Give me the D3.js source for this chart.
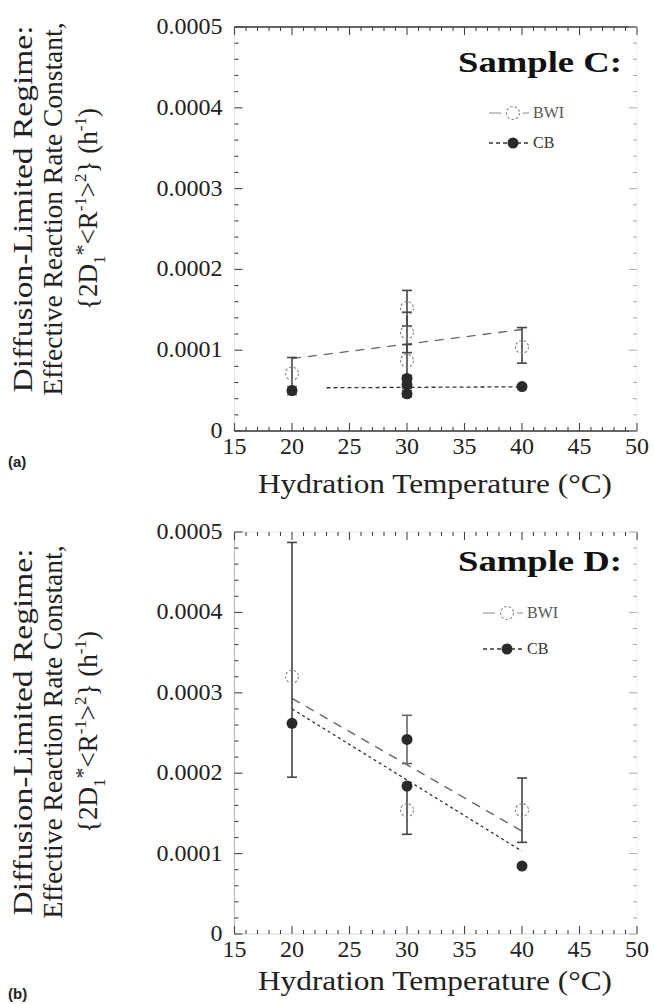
<!DOCTYPE html>
<html><head><meta charset="utf-8">
<script src="https://cdn.jsdelivr.net/npm/d3@7"></script>
<style>body{margin:0;background:#fff}svg{display:block}</style>
</head><body>
<svg id="chart" width="654" height="1004"></svg>
<script>
// ---------- data ----------
const xTicks = [15, 20, 25, 30, 35, 40, 45, 50];
const yTicks = [0, 0.0001, 0.0002, 0.0003, 0.0004, 0.0005];
const yTickLabels = ["0", "0.0001", "0.0002", "0.0003", "0.0004", "0.0005"];
const seriesNames = ["BWI", "CB"];

// Sample C
const cBWI_temp  = [20, 30, 30, 30, 40];
const cBWI_val   = [0.000071, 0.000152, 0.000122, 0.000087, 0.000104];
const cBWI_errUp = [0.00002, 0.000022, 0.000025, 0.00002, 0.000024];
const cBWI_errDn = [0.00002, 0.000022, 0.000025, 0.00002, 0.00002];
const cCB_temp   = [20, 30, 30, 30, 40];
const cCB_val    = [0.00005, 0.000065, 0.000057, 0.000046, 0.000055];
const cCB_errUp  = [0.000005, 0.000004, 0.000004, 0.000004, 0];
const cCB_errDn  = [0.000005, 0.000004, 0.000004, 0.000004, 0];
const cBWI_fit   = [[20, 0.0000896], [40, 0.0001256]];
const cCB_fit    = [[23, 0.0000535], [40, 0.0000547]];

// Sample D
const dBWI_temp  = [20, 30, 40];
const dBWI_val   = [0.00032, 0.000154, 0.000154];
const dBWI_errUp = [0.000167, 0.00003, 0.00004];
const dBWI_errDn = [0.000125, 0.00003, 0.00004];
const dCB_temp   = [20, 30, 30, 40];
const dCB_val    = [0.000262, 0.000242, 0.000184, 0.0000845];
const dCB_errUp  = [0, 0.00003, 0, 0];
const dCB_errDn  = [0, 0.00003, 0, 0];
const dBWI_fit   = [[20, 0.000293], [40, 0.000128]];
const dCB_fit    = [[20, 0.00028], [40, 0.000103]];

// ---------- drawing ----------
const svg = d3.select("#chart");
const serif = "'Liberation Serif', 'Times New Roman', serif";
const x = d3.scaleLinear().domain([15, 50]).range([234.5, 637]);

function panel(cfg) {
  const y = d3.scaleLinear().domain([0, 0.0005]).range([cfg.y0, cfg.y5]);
  const g = svg.append("g");
  const xMinor = d3.range(15, 50.01, 1);
  const yMinor = d3.range(0, 0.000501, 0.00002);

  const L = x.range()[0], R = x.range()[1], B = y(0), T = y(0.0005);
  const line = (x1, y1, x2, y2, c, w) => g.append("line").attr("x1", x1).attr("y1", y1).attr("x2", x2).attr("y2", y2)
      .attr("stroke", c).attr("stroke-width", w);
  line(L, B, R, B, cfg.bottomColor, 1.3);
  line(L, T, R, T, cfg.topColor, 1.3);
  line(L, T, L, B, cfg.leftColor, 1.2);
  line(R, T, R, B, cfg.rightColor, 1);

  xMinor.forEach(v => {
    const major = xTicks.includes(Math.round(v));
    const len = major ? 8 : 4;
    line(x(v), B, x(v), B - len, "#444", 1.1);
    line(x(v), T, x(v), T + len, "#444", 1.1);
  });
  yMinor.forEach(v => {
    const major = Math.abs(v / 0.0001 - Math.round(v / 0.0001)) < 1e-6;
    const len = major ? 8 : 4;
    line(L, y(v), L + len, y(v), "#444", 1.1);
    line(R, y(v), R - len, y(v), "#aaa", 1);
  });

  g.selectAll(".xl").data(xTicks).enter().append("text")
    .attr("x", d => x(d)).attr("y", B + 23).attr("text-anchor", "middle")
    .attr("font-family", serif).attr("font-size", 24).attr("fill", "#222").text(d => d);
  g.selectAll(".yl").data(yTicks).enter().append("text")
    .attr("x", L - 12).attr("y", (d) => y(d) + 7).attr("text-anchor", "end")
    .attr("font-family", serif).attr("font-size", 24).attr("fill", "#222")
    .text((d, i) => yTickLabels[i]);

  g.append("text").attr("x", 435).attr("y", cfg.xTitleY).attr("text-anchor", "middle")
    .attr("font-family", serif).attr("font-size", 28).attr("fill", "#222")
    .attr("textLength", 354).attr("lengthAdjust", "spacingAndGlyphs")
    .text("Hydration Temperature (°C)");

  const yt = (bx, txt, len) => g.append("text")
    .attr("transform", `translate(${bx},${cfg.yTitleC}) rotate(-90)`)
    .attr("text-anchor", "middle").attr("font-family", serif).attr("font-size", 27).attr("fill", "#222")
    .attr("textLength", len).attr("lengthAdjust", "spacingAndGlyphs").text(txt);
  yt(32, "Diffusion-Limited Regime:", 367);
  yt(62, "Effective Reaction Rate Constant,", 373);
  const t3 = g.append("text")
    .attr("transform", `translate(97,${cfg.yTitleC}) rotate(-90)`)
    .attr("text-anchor", "middle").attr("font-family", serif).attr("font-size", 27).attr("fill", "#222");
  const parts = [["{2D", 0, 27], ["1", 8, 17], ["*", -15, 22], ["<R", 7, 27], ["-1", -11, 17], [">", 11, 27],
                 ["2", -11, 17], ["}", 11, 27], [" (h", 0, 27], ["-1", -11, 17], [")", 11, 27]];
  parts.forEach(p => t3.append("tspan").attr("dy", p[1]).attr("font-size", p[2]).text(p[0]));

  g.append("text").attr("x", 622).attr("y", cfg.sampleY).attr("text-anchor", "end")
    .attr("font-family", serif).attr("font-weight", "bold").attr("font-size", 29).attr("fill", "#111")
    .attr("textLength", 164).attr("lengthAdjust", "spacingAndGlyphs").text(cfg.sample);

  g.append("text").attr("x", 8).attr("y", cfg.panelY).attr("font-family", "'Liberation Sans', Arial, sans-serif")
    .attr("font-weight", "bold").attr("font-size", 15).attr("fill", "#222").text(cfg.panel);

  const ln = d3.line().x(d => x(d[0])).y(d => y(d[1]));
  g.append("path").attr("d", ln(cfg.bwiFit)).attr("fill", "none").attr("stroke", "#666")
    .attr("stroke-width", 1.3).attr("stroke-dasharray", "9,7");
  g.append("path").attr("d", ln(cfg.cbFit)).attr("fill", "none").attr("stroke", "#333")
    .attr("stroke-width", 1.3).attr("stroke-dasharray", cfg.cbDash);

  const eb = (temps, vals, up, dn, color) => temps.forEach((t, i) => {
    if (!up[i] && !dn[i]) return;
    const cx = x(t), y1 = y(vals[i] + up[i]), y2 = y(vals[i] - dn[i]);
    line(cx, y1, cx, y2, color, 1.6);
    line(cx - 5, y1, cx + 5, y1, color, 1.6);
    line(cx - 5, y2, cx + 5, y2, color, 1.6);
  });
  eb(cfg.bwiT, cfg.bwiV, cfg.bwiU, cfg.bwiD, "#444");
  eb(cfg.cbT, cfg.cbV, cfg.cbU, cfg.cbD, "#666");

  cfg.bwiT.forEach((t, i) => g.append("circle").attr("cx", x(t)).attr("cy", y(cfg.bwiV[i])).attr("r", 6.5)
    .attr("fill", "none").attr("stroke", "#888").attr("stroke-width", 1.1).attr("stroke-dasharray", "2.5,2"));
  cfg.cbT.forEach((t, i) => g.append("circle").attr("cx", x(t)).attr("cy", y(cfg.cbV[i])).attr("r", 5.5)
    .attr("fill", "#2a2a2a"));

  const lx = cfg.legX, ly1 = cfg.legY, ly2 = cfg.legY + cfg.legGap;
  line(lx - 24, ly1, lx + 16, ly1, "#888", 1.1).attr("stroke-dasharray", "12,5");
  g.append("circle").attr("cx", lx).attr("cy", ly1).attr("r", 6.5).attr("fill", "#fff")
    .attr("stroke", "#888").attr("stroke-width", 1.1).attr("stroke-dasharray", "2.5,2");
  line(lx - 24, ly2, lx + 18, ly2, "#333", 1.3).attr("stroke-dasharray", "4,3");
  g.append("circle").attr("cx", lx).attr("cy", ly2).attr("r", 5.5).attr("fill", "#2a2a2a");
  g.append("text").attr("x", lx + 20).attr("y", ly1 + 5).attr("font-family", serif).attr("font-size", 16)
    .attr("fill", "#555").text(seriesNames[0]);
  g.append("text").attr("x", lx + 20).attr("y", ly2 + 5).attr("font-family", serif).attr("font-size", 16)
    .attr("fill", "#333").text(seriesNames[1]);
}

panel({
  y0: 431, y5: 27, topColor: "#333", bottomColor: "#333", leftColor: "#e4e4e4", rightColor: "#f0f0f0",
  xTitleY: 493, yTitleC: 209, sampleY: 72, sample: "Sample C:", panel: "(a)", panelY: 467,
  bwiT: cBWI_temp, bwiV: cBWI_val, bwiU: cBWI_errUp, bwiD: cBWI_errDn,
  cbT: cCB_temp, cbV: cCB_val, cbU: cCB_errUp, cbD: cCB_errDn,
  bwiFit: cBWI_fit, cbFit: cCB_fit, cbDash: "4,3", legX: 513, legY: 113, legGap: 30
});
panel({
  y0: 934, y5: 532, topColor: "#f0f0f0", bottomColor: "#e4e4e4", leftColor: "#bbb", rightColor: "#f0f0f0",
  xTitleY: 990, yTitleC: 732, sampleY: 571, sample: "Sample D:", panel: "(b)", panelY: 999,
  bwiT: dBWI_temp, bwiV: dBWI_val, bwiU: dBWI_errUp, bwiD: dBWI_errDn,
  cbT: dCB_temp, cbV: dCB_val, cbU: dCB_errUp, cbD: dCB_errDn,
  bwiFit: dBWI_fit, cbFit: dCB_fit, cbDash: "3,3", legX: 507, legY: 613, legGap: 36
});
</script>
</body></html>
